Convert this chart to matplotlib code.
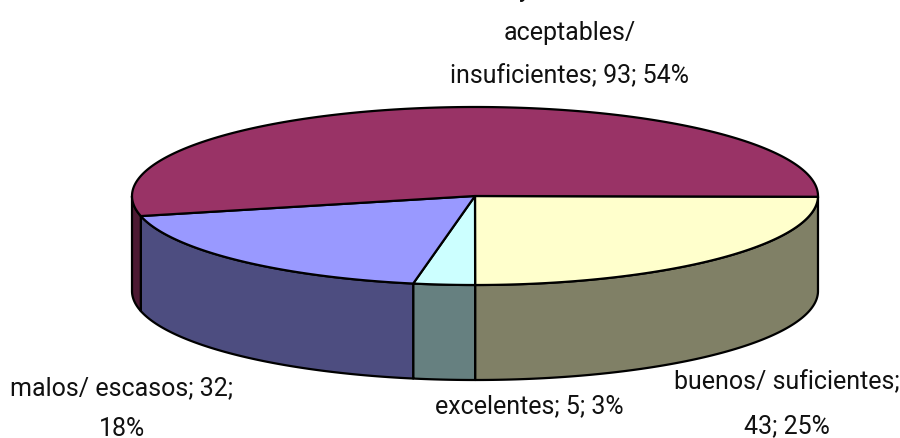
import matplotlib
matplotlib.use('Agg')
import matplotlib.pyplot as plt
import numpy as np

# data, clockwise from 3 o'clock
categories = ['buenos/ suficientes', 'excelentes', 'malos/ escasos', 'aceptables/ insuficientes']
values = [43, 5, 32, 93]
percents = [25, 3, 18, 54]
top_colors = ['#FFFFCC', '#CCFFFF', '#9999FF', '#993366']
side_colors = ['#808066', '#668080', '#4D4D80', '#4D1933']

# pie geometry in pixels
CX, CY = 475, 197
RX, RY = 343, 89
DEPTH = 95
START = 0.5
LW = 1.6


def rim(a0, a1, dy=0):
    t = np.radians(np.linspace(a0, a1, 200))
    return CX + RX * np.cos(t), CY + RY * np.sin(t) + dy


fig = plt.figure(figsize=(9, 4.39), dpi=100)
ax = fig.add_axes([0, 0, 1, 1])
ax.set_xlim(0, 900)
ax.set_ylim(439, 0)
ax.axis('off')

edges = START + np.concatenate([[0], np.cumsum(values)]) / sum(values) * 360

# side walls, only the front half of the rim shows
for i in range(len(values)):
    a0, a1 = edges[i], min(edges[i + 1], 180)
    if a0 >= 180:
        continue
    x, y = rim(a0, a1)
    xb, yb = rim(a1, a0, DEPTH)
    ax.fill(np.r_[x, xb], np.r_[y, yb], facecolor=side_colors[i], edgecolor='black', linewidth=LW, joinstyle='round')

# top faces
for i in range(len(values)):
    x, y = rim(edges[i], edges[i + 1])
    ax.fill(np.r_[CX, x], np.r_[CY, y], facecolor=top_colors[i], edgecolor='black', linewidth=LW, joinstyle='round')

# labels, one text per line as wrapped in the chart
font = dict(family='Roboto', fontsize=18, color='#111111', ha='center', va='baseline')
ax.text(525, -3, 'y', clip_on=False, **font)
ax.text(570, 40, 'aceptables/', **font)
ax.text(570, 83, f'insuficientes; {values[3]}; {percents[3]}%', **font)
ax.text(122, 395, f'{categories[2]}; {values[2]};', **font)
ax.text(122, 436, f'{percents[2]}%', **font)
ax.text(529, 413, f'{categories[1]}; {values[1]}; {percents[1]}%', **font)
ax.text(787, 389, f'{categories[0]};', **font)
ax.text(787, 433, f'{values[0]}; {percents[0]}%', **font)

fig.savefig('out.png', dpi=100)
plt.close(fig)
